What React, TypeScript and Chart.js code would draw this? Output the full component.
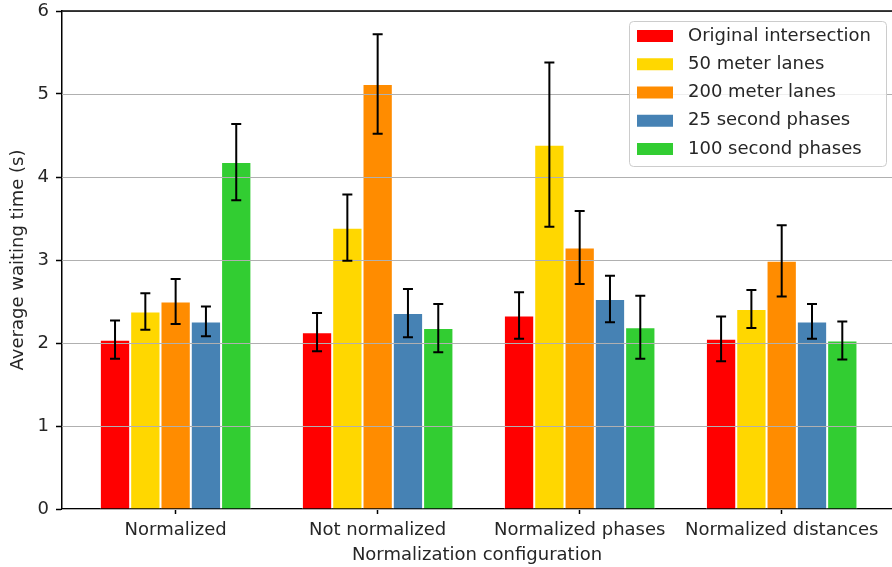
import React, { useEffect, useRef } from "react";
import { Chart, registerables } from "chart.js";

Chart.register(...registerables);

// Normalization configurations along the x axis
const categories = [
  "Normalized",
  "Not normalized",
  "Normalized phases",
  "Normalized distances",
];

// Mean waiting time per configuration (s)
const originalIntersection = [2.04, 2.13, 2.33, 2.05];
const meterLanes50 = [2.38, 3.39, 4.39, 2.41];
const meterLanes200 = [2.5, 5.12, 3.15, 2.99];
const secondPhases25 = [2.26, 2.36, 2.53, 2.26];
const secondPhases100 = [4.18, 2.18, 2.19, 2.03];

// Half-width of the error bars (s)
const originalIntersectionErr = [0.23, 0.23, 0.28, 0.27];
const meterLanes50Err = [0.22, 0.4, 0.99, 0.23];
const meterLanes200Err = [0.27, 0.6, 0.44, 0.43];
const secondPhases25Err = [0.18, 0.29, 0.28, 0.21];
const secondPhases100Err = [0.46, 0.29, 0.38, 0.23];

const seriesLabels = [
  "Original intersection",
  "50 meter lanes",
  "200 meter lanes",
  "25 second phases",
  "100 second phases",
];
const seriesValues = [
  originalIntersection,
  meterLanes50,
  meterLanes200,
  secondPhases25,
  secondPhases100,
];
const seriesErrors = [
  originalIntersectionErr,
  meterLanes50Err,
  meterLanes200Err,
  secondPhases25Err,
  secondPhases100Err,
];
const seriesColors = ["#ff0000", "#ffd700", "#ff8c00", "#4682b4", "#32cd32"];

const yTicks = [0, 1, 2, 3, 4, 5, 6];

const FONT = "'DejaVu Sans', sans-serif";
const TEXT = "#262626";

// Grid lines drawn above the bars, then error bars, frame and legend
const overlayPlugin = {
  id: "overlay",
  afterDatasetsDraw(chart: any) {
    const { ctx, chartArea } = chart;
    const yScale = chart.scales.y;
    ctx.save();
    ctx.strokeStyle = "#b0b0b0";
    ctx.lineWidth = 1;
    yTicks.forEach((t) => {
      const py = Math.round(yScale.getPixelForValue(t)) + 0.5;
      ctx.beginPath();
      ctx.moveTo(chartArea.left, py);
      ctx.lineTo(chartArea.right, py);
      ctx.stroke();
    });

    ctx.strokeStyle = "#000000";
    ctx.lineWidth = 2;
    chart.data.datasets.forEach((ds: any, di: number) => {
      const meta = chart.getDatasetMeta(di);
      const errs = seriesErrors[di];
      meta.data.forEach((bar: any, j: number) => {
        const v = ds.data[j].y;
        const e = errs[j];
        const x = bar.x;
        const yTop = yScale.getPixelForValue(v + e);
        const yBot = yScale.getPixelForValue(v - e);
        ctx.beginPath();
        ctx.moveTo(x, yTop);
        ctx.lineTo(x, yBot);
        ctx.moveTo(x - 5, yTop);
        ctx.lineTo(x + 5, yTop);
        ctx.moveTo(x - 5, yBot);
        ctx.lineTo(x + 5, yBot);
        ctx.stroke();
      });
    });
    ctx.restore();
  },
  afterDraw(chart: any) {
    const { ctx, chartArea } = chart;
    ctx.save();
    // top spine
    ctx.strokeStyle = "#000000";
    ctx.lineWidth = 1.5;
    ctx.beginPath();
    ctx.moveTo(chartArea.left, chartArea.top);
    ctx.lineTo(chartArea.right, chartArea.top);
    ctx.stroke();

    // legend box
    const bx = 629.5;
    const by = 21.5;
    const bw = 257;
    const bh = 145;
    const r = 4;
    ctx.beginPath();
    ctx.moveTo(bx + r, by);
    ctx.lineTo(bx + bw - r, by);
    ctx.arcTo(bx + bw, by, bx + bw, by + r, r);
    ctx.lineTo(bx + bw, by + bh - r);
    ctx.arcTo(bx + bw, by + bh, bx + bw - r, by + bh, r);
    ctx.lineTo(bx + r, by + bh);
    ctx.arcTo(bx, by + bh, bx, by + bh - r, r);
    ctx.lineTo(bx, by + r);
    ctx.arcTo(bx, by, bx + r, by, r);
    ctx.closePath();
    ctx.fillStyle = "rgba(255,255,255,0.8)";
    ctx.fill();
    ctx.strokeStyle = "#cccccc";
    ctx.lineWidth = 1;
    ctx.stroke();

    ctx.font = `18px ${FONT}`;
    ctx.textBaseline = "middle";
    ctx.textAlign = "left";
    chart.data.datasets.forEach((ds: any, i: number) => {
      const cy = 36 + i * 28.25;
      ctx.fillStyle = ds.backgroundColor;
      ctx.fillRect(637, cy - 6, 36, 12);
      ctx.fillStyle = TEXT;
      ctx.fillText(ds.label, 688, cy);
    });
    ctx.restore();
  },
};

export default function App() {
  const canvasRef = useRef<HTMLCanvasElement | null>(null);

  useEffect(() => {
    if (!canvasRef.current) return;
    const chart = new Chart(canvasRef.current, {
      type: "bar",
      data: {
        datasets: seriesLabels.map((label, i) => ({
          label,
          data: seriesValues[i].map((v, j) => ({ x: j, y: v })),
          backgroundColor: seriesColors[i],
          borderColor: "#ffffff",
          borderWidth: 1,
        })),
      },
      options: {
        responsive: false,
        animation: false,
        layout: { padding: { top: 11, right: 0, bottom: 0, left: 0 } },
        datasets: {
          bar: { categoryPercentage: 0.75, barPercentage: 1 },
        },
        plugins: {
          legend: { display: false },
          tooltip: { enabled: false },
        },
        scales: {
          x: {
            type: "linear",
            offset: false,
            min: -0.5625,
            max: 3.546,
            afterBuildTicks: (scale: any) => {
              scale.ticks = categories.map((_, i) => ({ value: i }));
            },
            afterFit: (scale: any) => {
              scale.height = 58;
              scale.paddingLeft = 0;
              scale.paddingRight = 0;
            },
            ticks: {
              color: TEXT,
              font: { family: FONT, size: 18 },
              padding: 6,
              maxRotation: 0,
              autoSkip: false,
              callback: (v: any) => categories[v] ?? "",
            },
            grid: {
              display: true,
              offset: false,
              drawOnChartArea: false,
              drawTicks: true,
              tickLength: 5,
              tickColor: "#000000",
              tickWidth: 1.5,
            },
            border: { display: true, color: "#000000", width: 1.5 },
            title: {
              display: true,
              text: "Normalization configuration",
              color: TEXT,
              font: { family: FONT, size: 18 },
              padding: { top: 0, bottom: 1 },
            },
          },
          y: {
            min: 0,
            max: 6,
            afterBuildTicks: (scale: any) => {
              scale.ticks = yTicks.map((v) => ({ value: v }));
            },
            afterFit: (scale: any) => {
              scale.width = 62;
              scale.paddingTop = 0;
              scale.paddingBottom = 0;
            },
            ticks: {
              color: TEXT,
              font: { family: FONT, size: 18 },
              padding: 7,
              callback: (v: any) => String(v),
            },
            grid: {
              display: true,
              drawOnChartArea: false,
              drawTicks: true,
              tickLength: 6,
              tickColor: "#000000",
              tickWidth: 1.5,
            },
            border: { display: true, color: "#000000", width: 1.5 },
            title: {
              display: true,
              text: "Average waiting time (s)",
              color: TEXT,
              font: { family: FONT, size: 18 },
              padding: { top: 8, bottom: 0 },
            },
          },
        },
      },
      plugins: [overlayPlugin],
    });
    return () => chart.destroy();
  }, []);

  return (
    <div
      style={{
        position: "fixed",
        left: 0,
        top: 0,
        width: 892,
        height: 567,
        background: "#ffffff",
      }}
    >
      <canvas ref={canvasRef} width={892} height={567} />
    </div>
  );
}
